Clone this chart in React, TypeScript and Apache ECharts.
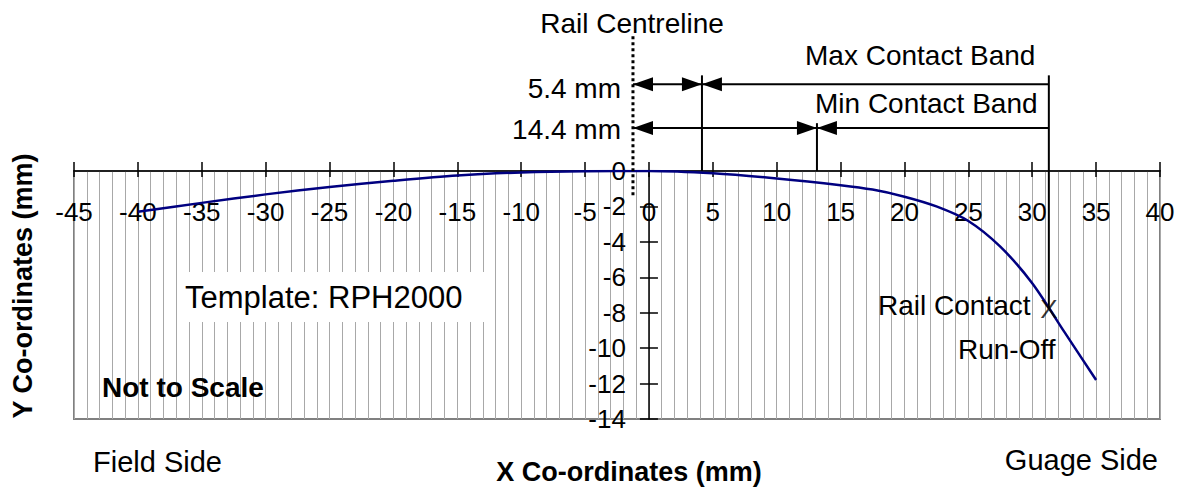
import React, { useEffect, useRef } from "react";
import * as echarts from "echarts";

// Rail head profile (mm)
const profileX = [-40, -35, -30, -25, -20, -15, -10, -5, 0, 5, 10, 15, 17.5, 20, 22.5, 25, 27.5, 30, 32.5, 35];
const profileY = [-2.3, -1.8, -1.32, -0.9, -0.55, -0.25, -0.08, -0.01, 0, -0.13, -0.42, -0.8, -1.05, -1.45, -2.0, -2.82, -4.27, -6.34, -9.07, -11.8];

// Axis ticks
const xMin = -45;
const xMax = 40;
const xStep = 5;
const yMin = -14;
const yMax = 0;
const yStep = 2;

// Annotation geometry (data units, mm)
const centrelineX = -1.25;
const centrelineTop = 7.6;
const centrelineBottom = -1.5;
const maxBandX = 4.15; // 5.4 mm from centreline
const minBandX = 13.15; // 14.4 mm from centreline
const contactX = 31.3;
const contactY = -7.8;
const maxRowY = 4.9;
const minRowY = 2.43;
const maxBandTop = 5.4;
const minBandTop = 2.7;

// Segments: [x1, y1, x2, y2]
const doubleArrows = [
  [centrelineX, maxRowY, maxBandX, maxRowY],
  [centrelineX, minRowY, minBandX, minRowY],
];
const singleArrows = [
  [contactX, maxRowY, maxBandX, maxRowY],
  [contactX, minRowY, minBandX, minRowY],
];
const bandLines = [
  [maxBandX, maxBandTop, maxBandX, 0],
  [minBandX, minBandTop, minBandX, 0],
  [contactX, maxBandTop, contactX, contactY],
];
const centreline = [[centrelineX, centrelineTop, centrelineX, centrelineBottom]];

const FONT = "'Liberation Sans', Arial, Helvetica, sans-serif";

const GRID_LEFT = 74;
const GRID_RIGHT = 18;
const CHART_W = 1178;

function segmentSeries(data: number[][], startHead: boolean, endHead: boolean, dash: number[] | null) {
  return {
    type: "custom",
    clip: false,
    silent: true,
    z: 10,
    data,
    encode: { x: [0, 2], y: [1, 3] },
    renderItem: (params: any, api: any) => {
      const p1 = api.coord([api.value(0), api.value(1)]);
      const p2 = api.coord([api.value(2), api.value(3)]);
      const children: any[] = [
        {
          type: "line",
          shape: { x1: p1[0], y1: p1[1], x2: p2[0], y2: p2[1] },
          style: { stroke: "#000", lineWidth: dash ? 3 : 2, lineDash: dash || undefined },
        },
      ];
      const head = (tip: number[], from: number[]) => {
        const dx = tip[0] - from[0];
        const dy = tip[1] - from[1];
        const len = Math.sqrt(dx * dx + dy * dy) || 1;
        const ux = dx / len;
        const uy = dy / len;
        const L = 20;
        const W = 14;
        const bx = tip[0] - ux * L;
        const by = tip[1] - uy * L;
        const nx = -uy;
        const ny = ux;
        return {
          type: "polygon",
          shape: {
            points: [
              [tip[0], tip[1]],
              [bx + (nx * W) / 2, by + (ny * W) / 2],
              [bx - (nx * W) / 2, by - (ny * W) / 2],
            ],
          },
          style: { fill: "#000" },
        };
      };
      if (startHead) children.push(head(p1, p2));
      if (endHead) children.push(head(p2, p1));
      return { type: "group", children };
    },
  };
}

export default function App() {
  const ref = useRef<HTMLDivElement>(null);

  useEffect(() => {
    if (!ref.current) return;
    const chart = echarts.init(ref.current, null, { renderer: "svg" });
    const profile = profileX.map((x, i) => [x, profileY[i]]);
    const gridLine = { color: "#a8a8a8", width: 1 };
    const plotW = CHART_W - GRID_LEFT - GRID_RIGHT;
    // place the y axis on x = 0
    const yOffset = -((0 - xMin) / (xMax - xMin)) * plotW;
    const text = (t: string, x: number, y: number, opts: any = {}) => ({
      type: "text",
      z: 100,
      x,
      y,
      rotation: opts.rotation || 0,
      style: {
        text: t,
        fill: "#000",
        fontSize: opts.fontSize || 28,
        fontWeight: opts.bold ? "bold" : "normal",
        fontFamily: FONT,
        align: opts.align || "left",
        verticalAlign: "middle",
      },
    });

    chart.setOption({
      animation: false,
      grid: {
        left: GRID_LEFT,
        right: GRID_RIGHT,
        top: 171,
        bottom: 74,
        show: true,
        borderColor: "#808080",
        borderWidth: 2,
      },
      xAxis: [
        {
          type: "value",
          min: xMin,
          max: xMax,
          interval: xStep,
          position: "top",
          axisLine: { onZero: false, lineStyle: { color: "#000", width: 1.5 } },
          axisTick: { show: true, length: 9, lineStyle: { color: "#000", width: 1.5 } },
          minorTick: { show: false, splitNumber: 5 },
          splitLine: { show: true, lineStyle: gridLine },
          minorSplitLine: { show: true, lineStyle: gridLine },
          axisLabel: { inside: true, fontSize: 26, color: "#000", margin: 28, fontFamily: FONT },
        },
        {
          type: "value",
          min: xMin,
          max: xMax,
          interval: xStep,
          position: "top",
          axisLine: { show: false, onZero: false },
          axisTick: { show: true, inside: true, length: 6, lineStyle: { color: "#000", width: 1.5 } },
          axisLabel: { show: false },
          splitLine: { show: false },
        },
      ],
      yAxis: [
        {
          type: "value",
          min: yMin,
          max: yMax,
          interval: yStep,
          position: "left",
          offset: yOffset,
          axisLine: { show: true, onZero: false, lineStyle: { color: "#000", width: 1.5 } },
          axisTick: { show: true, length: 9, lineStyle: { color: "#000", width: 1.5 } },
          splitLine: { show: false },
          axisLabel: { fontSize: 26, color: "#000", margin: 23, fontFamily: FONT },
        },
        {
          type: "value",
          min: yMin,
          max: yMax,
          interval: yStep,
          position: "left",
          offset: yOffset,
          axisLine: { show: false, onZero: false },
          axisTick: { show: true, inside: true, length: 9, lineStyle: { color: "#000", width: 1.5 } },
          splitLine: { show: false },
          axisLabel: { show: false },
        },
      ],
      series: [
        {
          type: "line",
          data: profile,
          smooth: 0.3,
          symbol: "none",
          z: 5,
          lineStyle: { color: "#000080", width: 2.5 },
        },
        segmentSeries(centreline, false, false, [3, 3]),
        segmentSeries(bandLines, false, false, null),
        segmentSeries(doubleArrows, true, true, null),
        segmentSeries(singleArrows, false, true, null),
        {
          type: "scatter",
          data: [[contactX, contactY]],
          symbolSize: 2,
          itemStyle: { color: "rgba(0,0,0,0)" },
          z: 20,
          label: {
            show: true,
            position: "inside",
            formatter: "X",
            fontSize: 26,
            color: "#000",
            fontFamily: FONT,
          },
        },
      ],
      graphic: [
        text("Rail Centreline", 632, 23, { align: "center" }),
        text("Max Contact Band", 805, 55),
        text("Min Contact Band", 815, 103),
        text("5.4 mm", 621, 88, { align: "right" }),
        text("14.4 mm", 621, 129, { align: "right" }),
        {
          type: "rect",
          z: 99,
          shape: { x: 177, y: 272, width: 308, height: 50 },
          style: { fill: "#fff" },
        },
        text("Template: RPH2000", 185, 297, { fontSize: 31 }),
        text("Not to Scale", 102, 387, { bold: true }),
        text("Field Side", 93, 462, { fontSize: 29 }),
        text("Guage Side", 1158, 460, { fontSize: 29, align: "right" }),
        text("X Co-ordinates (mm)", 629, 472, { bold: true, align: "center", fontSize: 27 }),
        text("Y Co-ordinates (mm)", 23, 286, { bold: true, align: "center", fontSize: 27, rotation: Math.PI / 2 }),
        text("Rail Contact", 878, 305),
        text("Run-Off", 958, 349),
      ],
    });
    return () => chart.dispose();
  }, []);

  return (
    <div
      ref={ref}
      style={{ position: "fixed", left: 0, top: 0, width: 1178, height: 493, background: "#fff" }}
    />
  );
}
